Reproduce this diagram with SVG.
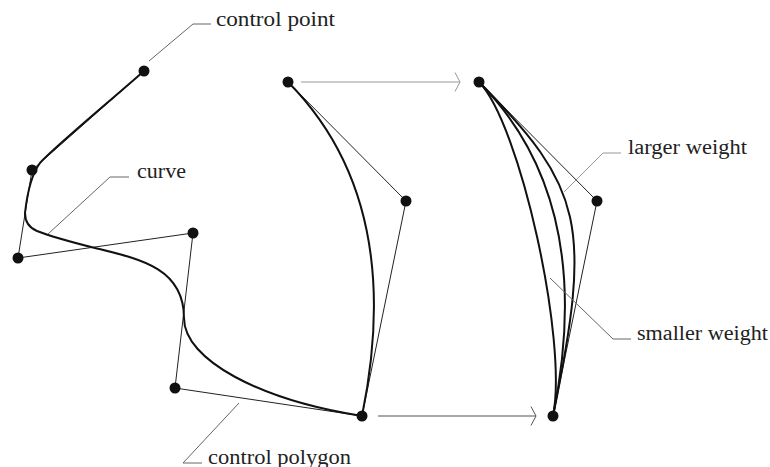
<svg xmlns="http://www.w3.org/2000/svg" width="770" height="467" viewBox="0 0 770 467">
<style>
.curve{fill:none;stroke:#111;stroke-width:2}
.poly{fill:none;stroke:#222;stroke-width:1}
.dot{fill:#111}
.lead{fill:none;stroke:#666;stroke-width:1}
.lbl{font-size:20px;fill:#222}
</style>
<defs>
<marker id="chev" markerWidth="8" markerHeight="22" refX="6" refY="11" orient="auto" markerUnits="userSpaceOnUse">
<path d="M1,1.5 L6,11 L1,20.5" fill="none" stroke="context-stroke" stroke-width="1"/>
</marker>
</defs>
<rect width="770" height="467" fill="#fff"/>

<g id="figure-left">
<polyline class="poly" points="144,71 32,170 18,258 193,233 175,388 362,416 406,201 288,82"/>
<path class="curve" d="M144,71 C110,101 52,149 40,163 C31,175 27,195 25,213 Q25,226 37,231 C55,238 75,243 95,248 C140,259 184,268 184,318 C184,360 260,400 362,416 Q406,201 288,82"/>
</g>

<g id="figure-right">
<polyline class="poly" points="479,82 597,201 553,416"/>
<path class="curve" d="M479,82 C519.8,123.1 568.2,341.7 553,416"/>
<path class="curve" d="M479,82 Q597,201 553,416"/>
<path class="curve" d="M479,82 C583.9,187.8 592.1,224.9 553,416"/>
</g>

<g id="points">
<circle id="p1" class="dot" cx="144" cy="71" r="5.5"/>
<circle id="p2" class="dot" cx="32" cy="170" r="5.5"/>
<circle id="p3" class="dot" cx="18" cy="258" r="5.5"/>
<circle id="p4" class="dot" cx="193" cy="233" r="5.5"/>
<circle id="p5" class="dot" cx="175" cy="388" r="5.5"/>
<circle id="p6" class="dot" cx="362" cy="416" r="5.5"/>
<circle id="p7" class="dot" cx="406" cy="201" r="5.5"/>
<circle id="p8" class="dot" cx="288" cy="82" r="5.5"/>
<circle id="q1" class="dot" cx="479" cy="82" r="5.5"/>
<circle id="q2" class="dot" cx="597" cy="201" r="5.5"/>
<circle id="q3" class="dot" cx="553" cy="416" r="5.5"/>
</g>

<g id="connectors">
<line x1="301" y1="82" x2="460" y2="82" stroke="#999" stroke-width="1.2" marker-end="url(#chev)"/>
<line x1="378" y1="416" x2="536" y2="416" stroke="#555" stroke-width="1.2" marker-end="url(#chev)"/>
<polyline class="lead" points="149,61 193,24 211,24"/>
<polyline class="lead" points="48,234 110,177 129,177"/>
<polyline class="lead" points="239,403 183,463 202,463"/>
<polyline class="lead" points="564,192 603,153 621,153" style="stroke:#999"/>
<polyline class="lead" points="550,278 613,339 631,339"/>
</g>

<g id="label-control-point"><text class="lbl" font-family="'Liberation Serif', 'DejaVu Serif', 'Times New Roman', serif" x="216" y="26" textLength="119" lengthAdjust="spacingAndGlyphs">control point</text></g>
<g id="label-curve"><text class="lbl" font-family="'Liberation Serif', 'DejaVu Serif', 'Times New Roman', serif" x="137" y="178" textLength="49" lengthAdjust="spacingAndGlyphs">curve</text></g>
<g id="label-control-polygon"><text class="lbl" font-family="'Liberation Serif', 'DejaVu Serif', 'Times New Roman', serif" x="208" y="464" textLength="143" lengthAdjust="spacingAndGlyphs">control polygon</text></g>
<g id="label-larger-weight"><text class="lbl" font-family="'Liberation Serif', 'DejaVu Serif', 'Times New Roman', serif" x="628" y="154" textLength="119" lengthAdjust="spacingAndGlyphs">larger weight</text></g>
<g id="label-smaller-weight"><text class="lbl" font-family="'Liberation Serif', 'DejaVu Serif', 'Times New Roman', serif" x="637" y="340" textLength="131" lengthAdjust="spacingAndGlyphs">smaller weight</text></g>
</svg>
